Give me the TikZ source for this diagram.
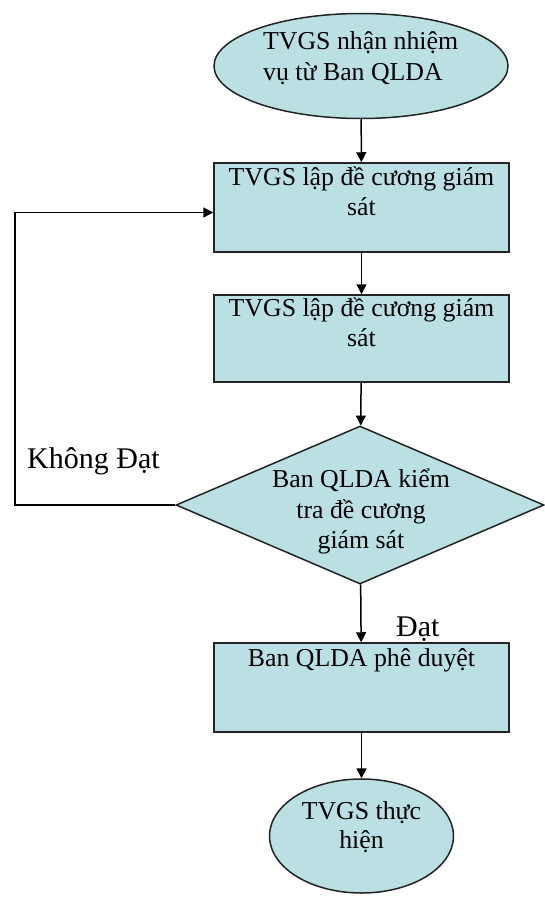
\documentclass[tikz,border=0pt]{standalone}
\usepackage{fontspec}
\setmainfont{Liberation Serif}
\usetikzlibrary{shapes.geometric,arrows.meta}
\definecolor{flowfill}{RGB}{186,224,228}
\definecolor{flowedge}{RGB}{35,35,35}
\tikzset{
  x=1pt, y=-1pt,
  shapebase/.style={draw=flowedge, fill=flowfill, line width=1.5pt, inner sep=0pt},
  stepbox/.style={shapebase, rectangle, minimum width=295pt, minimum height=89pt},
  oval/.style={shapebase, ellipse},
  decision/.style={shapebase, diamond},
  lbl/.style={inner sep=0pt, font=\fontsize{25.8}{30}\selectfont},
  branch/.style={inner sep=0pt, font=\fontsize{30}{34}\selectfont},
  flow/.style={line width=1.5pt, -{Triangle[length=10pt,width=10pt]}}
}
\begin{document}
\begin{tikzpicture}
\useasboundingbox (0,0) rectangle (545,899);

% shapes
\node[oval, minimum width=294pt, minimum height=105pt] (start) at (361,66) {};
\node[stepbox] (plan1) at (361.5,207.5) {};
\node[stepbox, minimum height=87pt] (plan2) at (361.5,338.5) {};
\node[decision, minimum width=368pt, minimum height=158pt] (check) at (360,505) {};
\node[stepbox] (approve) at (361.5,687.5) {};
\node[oval, minimum width=184pt, minimum height=114pt] (finish) at (361.5,836) {};

% texts
\node[lbl, anchor=base west] (ta) at (263,50) {TVGS nhận nhiệm};
\node[lbl, anchor=base west] (tb) at (263,81) {vụ từ Ban QLDA};
\node[lbl, anchor=base] (p1a) at (361.5,185) {TVGS lập đề cương giám};
\node[lbl, anchor=base] (p1b) at (361.5,215) {sát};
\node[lbl, anchor=base] (p2a) at (361.5,316) {TVGS lập đề cương giám};
\node[lbl, anchor=base] (p2b) at (361.5,346) {sát};
\node[lbl, anchor=base] (ca) at (361,487) {Ban QLDA kiểm};
\node[lbl, anchor=base] (cb) at (361,518) {tra đề cương};
\node[lbl, anchor=base] (cc) at (361,548) {giám sát};
\node[lbl, anchor=base] (aa) at (361.5,666) {Ban QLDA phê duyệt};
\node[lbl, anchor=base] (fa) at (361.5,819) {TVGS thực};
\node[lbl, anchor=base] (fb) at (361.5,848) {hiện};
\node[branch, anchor=base west] (no) at (27,468) {Không Đạt};
\node[branch, anchor=base west] (yes) at (396,636) {Đạt};

% connectors
\draw[flow] (start) -- (plan1);
\draw[flow] (plan1) -- (plan2);
\draw[flow] (plan2) -- (check);
\draw[flow] (check) -- (approve);
\draw[flow] (approve) -- (finish);
\coordinate (loop) at (15,505);
\draw[flow] (check.west) -- (loop) |- ([yshift=-5pt]plan1.west);
\end{tikzpicture}
\end{document}
